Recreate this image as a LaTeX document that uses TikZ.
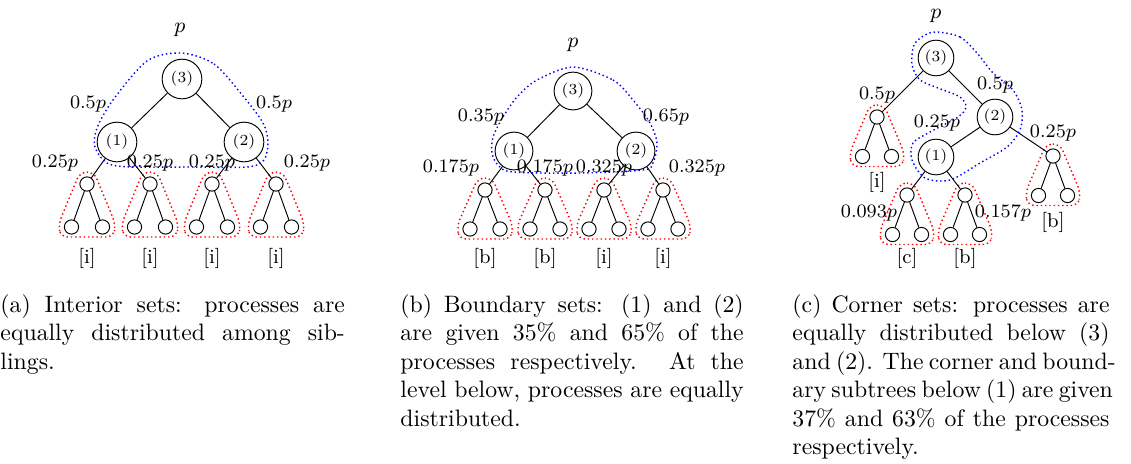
\documentclass[tikz,border=0pt]{standalone}
\newcommand\capline[2]{\hbox to #1{#2}}
\newcommand\caplast[1]{\hbox{#1}}
\hbadness=10000 \hfuzz=20pt
\begin{document}
\begin{tikzpicture}[x=0.421pt,y=-0.421pt,
  big/.style={circle,draw,line width=0.4pt,inner sep=0pt,minimum size=#1,font=\fontsize{6.5}{7}\selectfont},
  small/.style={circle,draw,line width=0.4pt,inner sep=0pt,minimum size=6pt},
  conn/.style={draw,line width=0.4pt},
  lbl/.style={inner sep=0pt,font=\fontsize{8.3}{10}\selectfont},
  plbl/.style={inner sep=0pt,font=\fontsize{9}{10}\selectfont},
  tagl/.style={inner sep=0pt,font=\fontsize{8.5}{10}\selectfont},
  hull/.style={draw=red,line width=0.6pt,dash pattern=on 0.6pt off 1.2pt,rounded corners=3pt},
  grp/.style={draw=blue,line width=0.6pt,dash pattern=on 0.6pt off 1.2pt},
  captxt/.style={inner sep=0pt,anchor=base west,align=justify,font=\normalsize},
  sub/.pic={
    \node[small] (-r) at (0,0) {};
    \node[small] (-a) at (-\sd,\sh) {};
    \node[small] (-b) at (\sd,\sh) {};
    \draw[conn] (-r) -- (-a) (-r) -- (-b);
    \draw[hull] (-7,-12) -- (7,-12) -- (\sd+13,\sh-3) -- (\sd+11,\sh+10) -- (-\sd-11,\sh+10) -- (-\sd-13,\sh-3) -- cycle;
  }
]
\useasboundingbox (0,0) rectangle (1131,463);

% ---------------- panel (a)
\def\sd{15.5}\def\sh{43}
\node[plbl] (ap) at (180,30) {$p$};
\node[big=16.7pt] (a3) at (182,79) {(3)};
\node[big=16.7pt] (a1) at (117,142) {(1)};
\node[big=16.7pt] (a2) at (244,142) {(2)};
\pic (as1) at (87,184) {sub};
\pic (as2) at (150,184) {sub};
\pic (as3) at (212,184) {sub};
\pic (as4) at (276,184) {sub};
\draw[conn] (a3) -- (a1);
\draw[conn] (a3) -- (a2);
\draw[conn] (a1) -- (as1-r);
\draw[conn] (a1) -- (as2-r);
\draw[conn] (a2) -- (as3-r);
\draw[conn] (a2) -- (as4-r);
\draw[grp] plot[smooth cycle] coordinates {(181,53) (214,64) (243,96) (263,123) (268,142) (264,160) (247,167) (190,167) (130,167) (107,163) (95,147) (97,128) (113,100) (147,61)};
\node[lbl] (al1) at (88,104) {$0.5p$};
\node[lbl] (al2) at (274,104) {$0.5p$};
\node[lbl] (al3) at (55,163) {$0.25p$};
\node[lbl] (al4) at (150,163) {$0.25p$};
\node[lbl] (al5) at (212,163) {$0.25p$};
\node[lbl] (al6) at (307,163) {$0.25p$};
\node[tagl] (at1) at (87,258) {[i]};
\node[tagl] (at2) at (150,258) {[i]};
\node[tagl] (at3) at (212,258) {[i]};
\node[tagl] (at4) at (276,258) {[i]};

% ---------------- panel (b)
\def\sd{15}\def\sh{39}
\node[plbl] (bp) at (573,45) {$p$};
\node[big=15.9pt] (b3) at (573,91) {(3)};
\node[big=15.9pt] (b1) at (514,151) {(1)};
\node[big=15.9pt] (b2) at (636,151) {(2)};
\pic (bs1) at (485,190) {sub};
\pic (bs2) at (545,190) {sub};
\pic (bs3) at (604,190) {sub};
\pic (bs4) at (663,190) {sub};
\draw[conn] (b3) -- (b1);
\draw[conn] (b3) -- (b2);
\draw[conn] (b1) -- (bs1-r);
\draw[conn] (b1) -- (bs2-r);
\draw[conn] (b2) -- (bs3-r);
\draw[conn] (b2) -- (bs4-r);
\draw[grp] plot[smooth cycle] coordinates {(573,67) (613,80) (633,100) (650,123) (657,143) (653,163) (643,170) (580,173) (513,172) (498,165) (492,153) (493,137) (503,117) (517,97) (537,80)};
\node[lbl] (bl1) at (481,117) {$0.35p$};
\node[lbl] (bl2) at (666,117) {$0.65p$};
\node[lbl] (bl3) at (451,168) {$0.175p$};
\node[lbl] (bl4) at (545,168) {$0.175p$};
\node[lbl] (bl5) at (604,168) {$0.325p$};
\node[lbl] (bl6) at (697,168) {$0.325p$};
\node[tagl] (bt1) at (485,258) {[b]};
\node[tagl] (bt2) at (545,258) {[b]};
\node[tagl] (bt3) at (604,258) {[i]};
\node[tagl] (bt4) at (663,258) {[i]};

% ---------------- panel (c)
\def\sd{14.5}\def\sh{39.5}
\node[plbl] (cp) at (936,16) {$p$};
\node[big=15pt] (c3) at (936,58) {(3)};
\node[big=15pt] (c2) at (995,117) {(2)};
\node[big=15pt] (c1) at (936,157) {(1)};
\pic (csi) at (877,117) {sub};
\pic (csb) at (1053,156) {sub};
\pic (csc) at (907,195) {sub};
\pic (csd) at (965,195) {sub};
\draw[conn] (c3) -- (csi-r);
\draw[conn] (c3) -- (c2);
\draw[conn] (c2) -- (c1);
\draw[conn] (c2) -- (csb-r);
\draw[conn] (c1) -- (csc-r);
\draw[conn] (c1) -- (csd-r);
\draw[grp] plot[smooth cycle] coordinates {(937,32) (960,37) (977,53) (993,73) (1013,90) (1022,110) (1020,130) (1007,147) (980,163) (950,180) (925,178) (912,160) (913,143) (930,132) (958,117) (966,107) (960,97) (938,88) (920,80) (912,65) (914,45) (925,35)};
\node[lbl] (cl1) at (877,95) {$0.5p$};
\node[lbl] (cl2) at (995,85) {$0.5p$};
\node[lbl] (cl3) at (937,123) {$0.25p$};
\node[lbl] (cl4) at (1053,133) {$0.25p$};
\node[lbl] (cl5) at (869,213) {$0.093p$};
\node[lbl] (cl6) at (1003,213) {$0.157p$};
\node[tagl] (ct1) at (877,182) {[i]};
\node[tagl] (ct2) at (1053,222) {[b]};
\node[tagl] (ct3) at (907,258) {[c]};
\node[tagl] (ct4) at (965,258) {[b]};

% ---------------- captions
\node[captxt,text width=145pt] (capa) at (0,312) {%
\spaceskip=0pt \xspaceskip=0pt
\capline{145pt}{(a) Interior sets: processes are}
\capline{145pt}{equally distributed among sib-}
\caplast{lings.}};
\node[captxt,text width=144.5pt] (capb) at (400,312) {%
\spaceskip=0pt \xspaceskip=0pt
\capline{144.5pt}{(b) Boundary sets: (1) and (2)}
\capline{144.5pt}{are given 35\% and 65\% of the}
\capline{144.5pt}{processes respectively. At the}
\capline{144.5pt}{level below, processes are equally}
\caplast{distributed.}};
\node[captxt,text width=133.5pt] (capc) at (792,312) {%
\spaceskip=0pt \xspaceskip=0pt
\capline{133.5pt}{(c) Corner sets: processes are}
\capline{133.5pt}{equally distributed below (3)}
\capline{133.5pt}{and (2). The corner and bound-}
\capline{133.5pt}{ary subtrees below (1) are given}
\capline{133.5pt}{37\% and 63\% of the processes}
\caplast{respectively.}};
\end{tikzpicture}
\end{document}
